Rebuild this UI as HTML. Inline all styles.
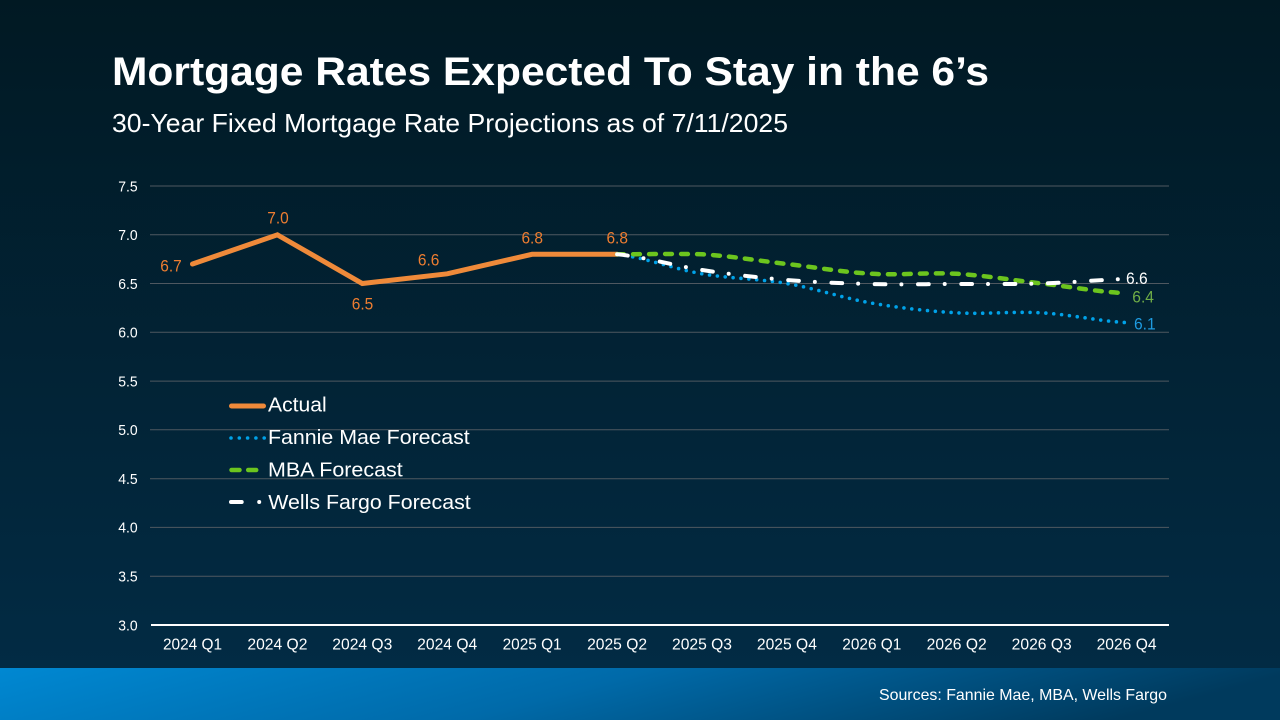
<!DOCTYPE html>
<html>
<head>
<meta charset="utf-8">
<style>
  html, body { margin: 0; padding: 0; width: 1280px; height: 720px; overflow: hidden; background: #011a25; }
  svg { display: block; }
  text { font-family: "Liberation Sans", Arial, sans-serif; }
</style>
</head>
<body>
<svg width="1280" height="720" viewBox="0 0 1280 720" xmlns="http://www.w3.org/2000/svg">
  <defs>
    <linearGradient id="bg" x1="0" y1="0" x2="0" y2="1">
      <stop offset="0" stop-color="#011923"/>
      <stop offset="1" stop-color="#022b44"/>
    </linearGradient>
    <linearGradient id="ft" x1="0" y1="0" x2="1" y2="0.15">
      <stop offset="0" stop-color="#0088d2"/>
      <stop offset="0.5" stop-color="#006aa9"/>
      <stop offset="1" stop-color="#003a5d"/>
    </linearGradient>
  </defs>

  <rect x="0" y="0" width="1280" height="668" fill="url(#bg)"/>
  <rect x="0" y="668" width="1280" height="52" fill="url(#ft)"/>

  <!-- Title -->
  <text x="112" y="85" font-size="40" font-weight="bold" fill="#ffffff" textLength="877" lengthAdjust="spacingAndGlyphs">Mortgage Rates Expected To Stay in the 6’s</text>
  <text x="112" y="132" font-size="26" fill="#ffffff" textLength="676" lengthAdjust="spacingAndGlyphs">30-Year Fixed Mortgage Rate Projections as of 7/11/2025</text>

  <!-- Gridlines -->
  <g stroke="#4f5860" stroke-width="1">
    <line x1="150" y1="186" x2="1169" y2="186"/>
    <line x1="150" y1="234.8" x2="1169" y2="234.8"/>
    <line x1="150" y1="283.5" x2="1169" y2="283.5"/>
    <line x1="150" y1="332.3" x2="1169" y2="332.3"/>
    <line x1="150" y1="381.1" x2="1169" y2="381.1"/>
    <line x1="150" y1="429.8" x2="1169" y2="429.8"/>
    <line x1="150" y1="478.7" x2="1169" y2="478.7"/>
    <line x1="150" y1="527.4" x2="1169" y2="527.4"/>
    <line x1="150" y1="576.2" x2="1169" y2="576.2"/>
  </g>
  <line x1="151" y1="625" x2="1169" y2="625" stroke="#ffffff" stroke-width="2"/>

  <!-- Y tick labels -->
  <g font-size="15" fill="#ffffff" text-anchor="end">
    <text x="137.7" y="191.3" textLength="19.4" lengthAdjust="spacingAndGlyphs">7.5</text>
    <text x="137.7" y="240.1" textLength="19.4" lengthAdjust="spacingAndGlyphs">7.0</text>
    <text x="137.7" y="288.8" textLength="19.4" lengthAdjust="spacingAndGlyphs">6.5</text>
    <text x="137.7" y="337.6" textLength="19.4" lengthAdjust="spacingAndGlyphs">6.0</text>
    <text x="137.7" y="386.4" textLength="19.4" lengthAdjust="spacingAndGlyphs">5.5</text>
    <text x="137.7" y="435.1" textLength="19.4" lengthAdjust="spacingAndGlyphs">5.0</text>
    <text x="137.7" y="484.0" textLength="19.4" lengthAdjust="spacingAndGlyphs">4.5</text>
    <text x="137.7" y="532.7" textLength="19.4" lengthAdjust="spacingAndGlyphs">4.0</text>
    <text x="137.7" y="581.5" textLength="19.4" lengthAdjust="spacingAndGlyphs">3.5</text>
    <text x="137.7" y="630.3" textLength="19.4" lengthAdjust="spacingAndGlyphs">3.0</text>
  </g>

  <!-- X labels -->
  <g font-size="15.5" fill="#ffffff" text-anchor="middle">
    <text x="192.5" y="649.5" textLength="59" lengthAdjust="spacingAndGlyphs">2024 Q1</text>
    <text x="277.4" y="649.5" textLength="60" lengthAdjust="spacingAndGlyphs">2024 Q2</text>
    <text x="362.3" y="649.5" textLength="60" lengthAdjust="spacingAndGlyphs">2024 Q3</text>
    <text x="447.2" y="649.5" textLength="60" lengthAdjust="spacingAndGlyphs">2024 Q4</text>
    <text x="532.1" y="649.5" textLength="59" lengthAdjust="spacingAndGlyphs">2025 Q1</text>
    <text x="617.1" y="649.5" textLength="60" lengthAdjust="spacingAndGlyphs">2025 Q2</text>
    <text x="702.0" y="649.5" textLength="60" lengthAdjust="spacingAndGlyphs">2025 Q3</text>
    <text x="786.9" y="649.5" textLength="60" lengthAdjust="spacingAndGlyphs">2025 Q4</text>
    <text x="871.8" y="649.5" textLength="59" lengthAdjust="spacingAndGlyphs">2026 Q1</text>
    <text x="956.7" y="649.5" textLength="60" lengthAdjust="spacingAndGlyphs">2026 Q2</text>
    <text x="1041.7" y="649.5" textLength="60" lengthAdjust="spacingAndGlyphs">2026 Q3</text>
    <text x="1126.6" y="649.5" textLength="60" lengthAdjust="spacingAndGlyphs">2026 Q4</text>
  </g>

  <!-- Series: Actual -->
  <path d="M192.5,264.0 L277.4,234.8 L362.3,283.5 L447.2,273.8 L532.1,254.3 L617.1,254.3"
        fill="none" stroke="#ef8a3a" stroke-width="5" stroke-linecap="round" stroke-linejoin="miter"/>

  <!-- Fannie Mae -->
  <path d="M617.1,254.3 C645.4,257.55 673.7,268.93 702.0,273.8 C730.3,278.67 758.6,278.62 786.9,283.5 C815.2,288.38 843.5,298.22 871.8,303.1 C900.1,307.98 928.4,311.18 956.7,312.8 C985.0,314.42 1013.4,311.17 1041.7,312.8 C1070.0,314.43 1098.3,320.97 1126.6,322.6"
        fill="none" stroke="#00a2e8" stroke-width="3.6" stroke-linecap="round" stroke-dasharray="0 7.9"/>

  <!-- MBA -->
  <path d="M617.1,254.3 C645.4,254.3 673.7,253.5 702.0,254.3 C730.3,255.92 758.6,260.75 786.9,264.0 C815.2,267.25 843.5,272.17 871.8,273.8 C900.1,275.43 928.4,272.18 956.7,273.8 C985.0,275.42 1013.4,280.25 1041.7,283.5 C1070.0,286.75 1098.3,291.67 1121,292.9"
        fill="none" stroke="#6cc51e" stroke-width="4.5" stroke-linecap="round" stroke-dasharray="6.8 9.2"/>

  <!-- Wells Fargo -->
  <path d="M617.1,254.3 C645.4,256.92 673.7,265.72 702.0,270 C730.3,274.28 758.6,277.67 786.9,280 C815.2,282.33 843.5,283.33 871.8,284 C900.1,284.67 928.4,284.08 956.7,284 C985.0,283.92 1013.4,284.33 1041.7,283.5 C1070.0,282.67 1098.3,279.75 1126.6,279"
        fill="none" stroke="#ffffff" stroke-width="4" stroke-linecap="round" stroke-dasharray="10.7 16 0 16.6"/>

  <!-- Data labels (actual) -->
  <g font-size="17" fill="#ed7d31" text-anchor="middle">
    <text x="171" y="271.7" textLength="21.5" lengthAdjust="spacingAndGlyphs">6.7</text>
    <text x="278" y="223.3" textLength="21.5" lengthAdjust="spacingAndGlyphs">7.0</text>
    <text x="362.5" y="309.3" textLength="21.5" lengthAdjust="spacingAndGlyphs">6.5</text>
    <text x="428.6" y="265.7" textLength="21.5" lengthAdjust="spacingAndGlyphs">6.6</text>
    <text x="532.2" y="243.3" textLength="21.5" lengthAdjust="spacingAndGlyphs">6.8</text>
    <text x="617.2" y="243.3" textLength="21.5" lengthAdjust="spacingAndGlyphs">6.8</text>
  </g>

  <!-- End labels -->
  <text x="1126" y="284" font-size="17" fill="#ffffff" textLength="21.7" lengthAdjust="spacingAndGlyphs">6.6</text>
  <text x="1132.3" y="302.3" font-size="17" fill="#70ad47" textLength="21.7" lengthAdjust="spacingAndGlyphs">6.4</text>
  <text x="1134" y="329.3" font-size="17" fill="#1e9be0" textLength="21.7" lengthAdjust="spacingAndGlyphs">6.1</text>

  <!-- Legend -->
  <line x1="231.5" y1="406" x2="263.5" y2="406" stroke="#ef8a3a" stroke-width="5" stroke-linecap="round"/>
  <line x1="231" y1="438" x2="265" y2="438" stroke="#00a2e8" stroke-width="3.6" stroke-linecap="round" stroke-dasharray="0 8.3"/>
  <line x1="231.5" y1="470" x2="264" y2="470" stroke="#6cc51e" stroke-width="4.5" stroke-linecap="round" stroke-dasharray="8 8.7"/>
  <line x1="231" y1="502" x2="264" y2="502" stroke="#ffffff" stroke-width="4" stroke-linecap="round" stroke-dasharray="10.7 17.5 0 20"/>

  <g font-size="20.5" fill="#ffffff">
    <text x="268" y="411.7" textLength="58.7" lengthAdjust="spacingAndGlyphs">Actual</text>
    <text x="268" y="444" textLength="201.7" lengthAdjust="spacingAndGlyphs">Fannie Mae Forecast</text>
    <text x="268" y="476.5" textLength="134.7" lengthAdjust="spacingAndGlyphs">MBA Forecast</text>
    <text x="268.3" y="508.8" textLength="202.4" lengthAdjust="spacingAndGlyphs">Wells Fargo Forecast</text>
  </g>

  <!-- Footer -->
  <text x="1167" y="700" font-size="16" fill="#ffffff" text-anchor="end" textLength="288" lengthAdjust="spacingAndGlyphs">Sources: Fannie Mae, MBA, Wells Fargo</text>
</svg>
</body>
</html>
